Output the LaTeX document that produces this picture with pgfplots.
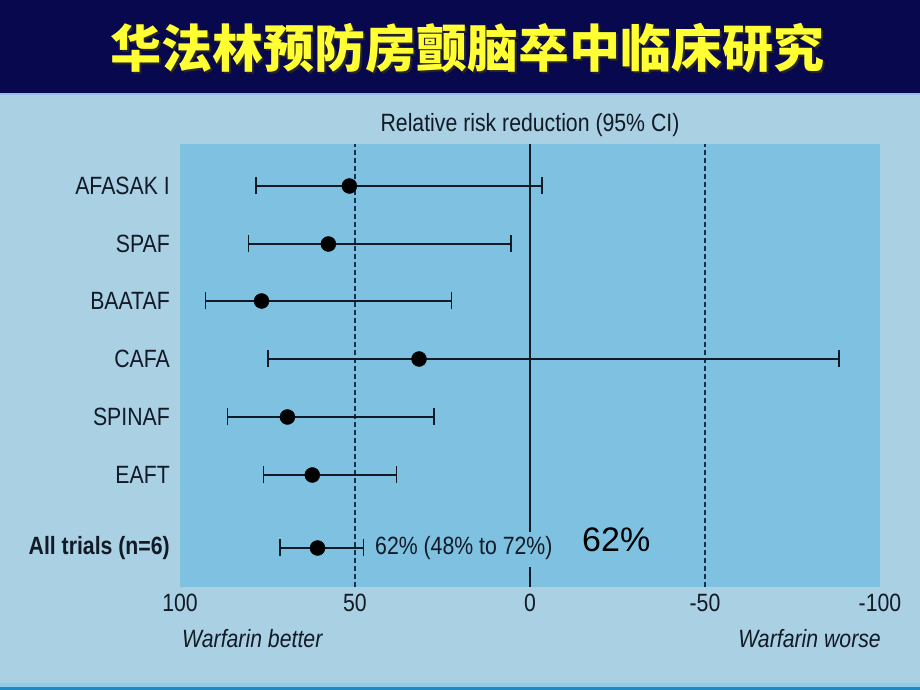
\documentclass[border=0pt]{standalone}
\usepackage{pgfplots}
\pgfplotsset{compat=1.18}
\usepackage{fontspec}
\setmainfont{Liberation Sans}[FakeStretch=0.85]
\newfontfamily\widesans{Liberation Sans}
\newfontfamily\cjk{Noto Sans CJK SC}
\definecolor{navy}{RGB}{8,8,78}
\definecolor{headline}{RGB}{150,190,235}
\definecolor{pagebg}{RGB}{170,208,228}
\definecolor{plotbg}{RGB}{126,193,225}
\definecolor{ink}{RGB}{18,26,38}
\definecolor{dashink}{RGB}{20,50,80}
\definecolor{titleyellow}{RGB}{255,255,51}
\definecolor{stripe}{RGB}{30,138,196}
\definecolor{stripelight}{RGB}{142,204,234}

% x: relative risk reduction, y: row position, ep/em: CI ends
\pgfplotstableread{
x     y    ep    em
51.6  401  26.7  55.1
57.6  343  22.8  52.2
76.7  286  16.0  54.3
31.7  228  43.1  120.0
69.3  170  17.1  41.8
62.2  112  13.9  24.1
60.7  39   10.7  13.1
}\trials

\begin{document}
\begin{tikzpicture}
\useasboundingbox (0pt,0pt) rectangle (920pt,690pt);
\fill[pagebg] (0pt,0pt) rectangle (920pt,690pt);
\fill[navy] (0pt,597pt) rectangle (920pt,690pt);
\fill[headline] (0pt,595pt) rectangle (920pt,597pt);
\fill[stripelight] (0pt,3pt) rectangle (920pt,7pt);
\fill[stripe] (0pt,0pt) rectangle (920pt,3pt);

\node[font=\cjk\bfseries\fontsize{51}{56}\selectfont, text=black!85] at (469pt,640pt) {华法林预防房颤脑卒中临床研究};
\node[font=\cjk\bfseries\fontsize{51}{56}\selectfont, text=titleyellow] at (467pt,642pt) {华法林预防房颤脑卒中临床研究};

\begin{axis}[
    at={(180pt,103pt)}, anchor=south west,
    scale only axis, width=700pt, height=443pt,
    xmin=-100, xmax=100, x dir=reverse,
    ymin=0, ymax=443,
    axis background/.style={fill=plotbg},
    axis line style={draw=none},
    tick style={draw=none},
    major tick length=0pt,
    xtick={-100,-50,0,50,100},
    xticklabels={-100,-50,0,50,100},
    ytick={39,112,170,228,286,343,401},
    yticklabels={{\bfseries All trials (n=6)},EAFT,SPINAF,CAFA,BAATAF,SPAF,AFASAK I},
    ticklabel style={font=\fontsize{25}{28}\selectfont, text=ink, inner sep=0pt},
    xticklabel shift=7pt,
    yticklabel shift=10pt,
    clip=false,
  ]
  \addplot[ink, line width=1.5pt] coordinates {(0,55) (0,443)};
  \addplot[ink, line width=1.5pt] coordinates {(0,0) (0,20)};
  \addplot[dashink, line width=1.3pt, dash pattern=on 5pt off 3pt] coordinates {(50,0) (50,443)};
  \addplot[dashink, line width=1.3pt, dash pattern=on 5pt off 3pt] coordinates {(-50,0) (-50,443)};
  \addplot[only marks, mark=*, mark size=7.5pt, black,
    error bars/.cd, x dir=both, x explicit,
    error bar style={ink, line width=1.6pt},
    error mark options={ink, rotate=90, mark size=8.5pt, line width=1.6pt}]
    table[x=x, y=y, x error plus=ep, x error minus=em] {\trials};
\end{axis}

\node[inner sep=0pt, text=ink, font=\fontsize{25}{28}\selectfont] at (530pt,565pt) {Relative risk reduction (95\% CI)};
\node[inner sep=0pt, anchor=west, text=ink, font=\fontsize{25}{28}\selectfont] at (375pt,142pt) {62\% (48\% to 72\%)};
\node[inner sep=0pt, anchor=west, text=black, font=\widesans\fontsize{34}{40}\selectfont] at (582pt,150pt) {62\%};
\node[inner sep=0pt, anchor=west, text=ink, font=\itshape\fontsize{25}{28}\selectfont] at (182pt,51pt) {Warfarin better};
\node[inner sep=0pt, anchor=east, text=ink, font=\itshape\fontsize{25}{28}\selectfont] at (881pt,51pt) {Warfarin worse};
\end{tikzpicture}
\end{document}
